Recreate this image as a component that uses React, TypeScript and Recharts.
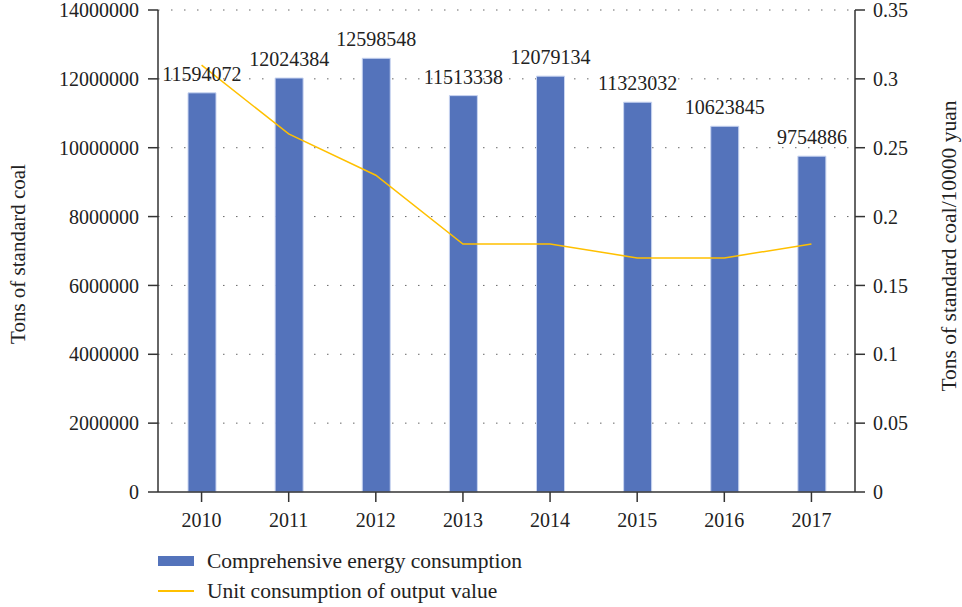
import React from 'react';
import {
  ComposedChart,
  Bar,
  Line,
  XAxis,
  YAxis,
  CartesianGrid,
  Legend,
  LabelList,
} from 'recharts';

const years = ['2010', '2011', '2012', '2013', '2014', '2015', '2016', '2017'];
const energy = [11594072, 12024384, 12598548, 11513338, 12079134, 11323032, 10623845, 9754886];
const unitConsumption = [0.31, 0.26, 0.23, 0.18, 0.18, 0.17, 0.17, 0.18];
const leftTicks = [0, 2000000, 4000000, 6000000, 8000000, 10000000, 12000000, 14000000];
const rightTicks = [0, 0.05, 0.1, 0.15, 0.2, 0.25, 0.3, 0.35];

const data = years.map((year, i) => ({
  year,
  energy: energy[i],
  unit: unitConsumption[i],
}));

const FONT = '"Liberation Serif", "DejaVu Serif", serif';
const tickStyle = { fill: '#222', fontSize: 20, fontFamily: FONT };

const renderLegend = (props: any) => {
  const { payload = [] } = props;
  return (
    <div style={{ fontFamily: FONT, fontSize: 21.5, color: '#222' }}>
      {payload.map((entry: any) => (
        <div key={entry.value} style={{ display: 'flex', alignItems: 'center', height: 30 }}>
          {entry.type === 'line' ? (
            <div style={{ width: 36, height: 2, background: entry.color, marginRight: 13 }} />
          ) : (
            <div style={{ width: 36, height: 10, background: entry.color, marginRight: 13 }} />
          )}
          <span>{entry.value}</span>
        </div>
      ))}
    </div>
  );
};

const App: React.FC = () => {
  return (
    <div style={{ position: 'absolute', left: 0, top: 0, background: '#fff' }}>
      <ComposedChart
        width={962}
        height={607}
        data={data}
        margin={{ top: 10, right: 0, bottom: 15, left: 0 }}
      >
        <CartesianGrid
          vertical={false}
          yAxisId="left"
          stroke="#666"
          strokeDasharray="1.5 11.5"
          horizontalValues={leftTicks.slice(1)}
        />
        <XAxis
          dataKey="year"
          height={40}
          tick={tickStyle}
          tickSize={10}
          tickMargin={11}
          stroke="#333"
          strokeWidth={1.5}
          tickLine={{ stroke: '#333', strokeWidth: 1.5 }}
        />
        <YAxis
          yAxisId="left"
          width={158}
          domain={[0, 14000000]}
          ticks={leftTicks}
          tick={tickStyle}
          tickSize={10}
          tickMargin={9}
          stroke="#333"
          strokeWidth={1.5}
          interval={0}
          label={{
            value: 'Tons of standard coal',
            angle: -90,
            position: 'center',
            dx: -61,
            dy: 3,
            style: { fill: '#222', fontSize: 21, fontFamily: FONT },
          }}
        />
        <YAxis
          yAxisId="right"
          orientation="right"
          width={107}
          domain={[0, 0.35]}
          ticks={rightTicks}
          tick={tickStyle}
          tickSize={10}
          tickMargin={8}
          stroke="#333"
          strokeWidth={1.5}
          interval={0}
          label={{
            value: 'Tons of standard coal/10000 yuan',
            angle: -90,
            position: 'center',
            dx: 40,
            dy: -5,
            style: { fill: '#222', fontSize: 21.5, fontFamily: FONT },
          }}
        />
        <Legend
          verticalAlign="bottom"
          align="left"
          content={renderLegend}
          wrapperStyle={{ left: 158, top: 546, width: 500 }}
        />
        <Bar
          yAxisId="left"
          dataKey="energy"
          name="Comprehensive energy consumption"
          fill="#5473BB"
          stroke="#c9d5f1"
          strokeWidth={1}
          barSize={28}
          isAnimationActive={false}
        >
          <LabelList
            dataKey="energy"
            position="top"
            offset={12}
            style={{ fill: '#222', fontSize: 20, fontFamily: FONT }}
          />
        </Bar>
        <Line
          yAxisId="right"
          dataKey="unit"
          name="Unit consumption of output value"
          type="linear"
          stroke="#FFC000"
          strokeWidth={1.5}
          dot={false}
          legendType="line"
          isAnimationActive={false}
        />
      </ComposedChart>
    </div>
  );
};

export default App;
